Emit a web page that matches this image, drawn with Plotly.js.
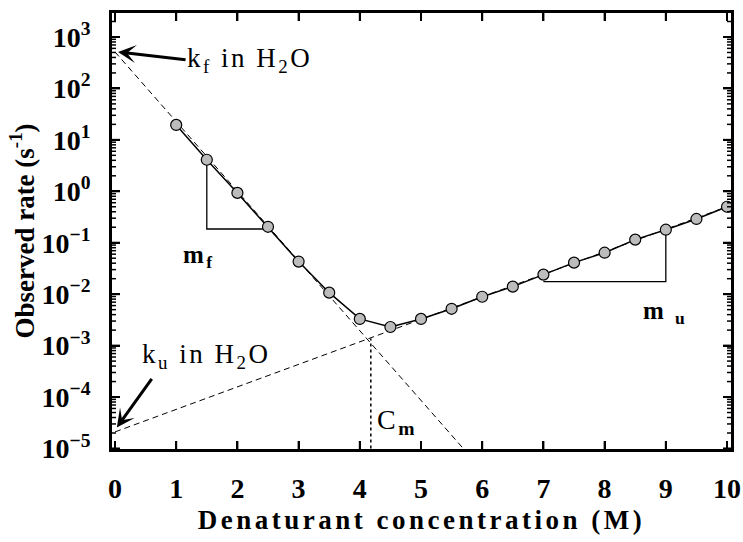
<!DOCTYPE html>
<html>
<head>
<meta charset="utf-8">
<script src="https://cdn.plot.ly/plotly-3.0.1.min.js"></script>
<style>
  html, body { margin: 0; padding: 0; background: #fff; }
  #chart { width: 743px; height: 542px; }
  .xtitle { letter-spacing: 3.5px; }
  .ytitle { letter-spacing: 0px; }
  .annotation-text { letter-spacing: 2.5px; }
</style>
</head>
<body>
<div id="chart"></div>
<script>
// Observed refolding/unfolding rates (chevron plot)
const conc = [1, 1.5, 2, 2.5, 3, 3.5, 4, 4.5, 5, 5.5, 6, 6.5, 7, 7.5, 8, 8.5, 9, 9.5, 10];
const rate = [19.5, 4.1, 0.93, 0.204, 0.043, 0.0107, 0.0033, 0.0023, 0.0033, 0.0052, 0.0089,
              0.014, 0.024, 0.041, 0.064, 0.115, 0.179, 0.29, 0.50];

// Extrapolated folding and unfolding limbs (dashed)
const foldX = [0, 5.69];
const foldY = [512, 1e-5];
const unfoldX = [0, 10];
const unfoldY = [2.1e-5, 0.5];

// Midpoint Cm (dotted)
const cmX = [4.18, 4.18];
const cmY = [1e-5, 0.00138];

// Slope triangles
const mfTriX = [1.5, 1.5, 2.5];
const mfTriY = [4.1, 0.185, 0.185];
const muTriX = [7, 9, 9];
const muTriY = [0.0175, 0.0175, 0.179];

// Tick positions
const xTickVals = [0, 1, 2, 3, 4, 5, 6, 7, 8, 9, 10];
const yDecades = [1e-5, 1e-4, 1e-3, 1e-2, 1e-1, 1e0, 1e1, 1e2, 1e3];
const minorMultipliers = [2, 3, 4, 5, 6, 7, 8, 9];

// Axis tick labels: Plotly's default text for 10^0 and 10^1 is "1" and "10",
// so relabel those two to the power form used in the figure.
const yDefaultLabels = ['1', '10'];
const yPowerLabels = ['10<sup>0</sup>', '10<sup>1</sup>'];
const yLabelAlias = {};
yDefaultLabels.forEach((k, i) => { yLabelAlias[k] = yPowerLabels[i]; });

const xRange = [-0.049, 10.065];
const yRangeLog = [-5.01, 3.466];

const serif = 'Liberation Serif, Times New Roman, serif';

// inside tick marks on all four sides, placed through the axes' own scales
const tickShapes = [];
function xTick(v, len, w) {
  tickShapes.push({ type: 'line', xref: 'x', yref: 'paper', ysizemode: 'pixel', yanchor: 0,
    x0: v, x1: v, y0: 0, y1: len, line: { color: '#000', width: w } });
  tickShapes.push({ type: 'line', xref: 'x', yref: 'paper', ysizemode: 'pixel', yanchor: 1,
    x0: v, x1: v, y0: 0, y1: -len, line: { color: '#000', width: w } });
}
function yTick(v, len, w) {
  tickShapes.push({ type: 'line', xref: 'paper', yref: 'y', xsizemode: 'pixel', xanchor: 0,
    x0: 0, x1: len, y0: v, y1: v, line: { color: '#000', width: w } });
  tickShapes.push({ type: 'line', xref: 'paper', yref: 'y', xsizemode: 'pixel', xanchor: 1,
    x0: 0, x1: -len, y0: v, y1: v, line: { color: '#000', width: w } });
}
xTickVals.forEach(v => xTick(v, 8, 2));
yDecades.forEach(d => {
  yTick(d, 8, 2);
  minorMultipliers.forEach(m => {
    const v = d * m;
    if (Math.log10(v) < yRangeLog[1]) yTick(v, 4, 1.5);
  });
});

const traces = [
  { x: foldX, y: foldY, mode: 'lines', line: { color: '#000', width: 1, dash: '6px,4px' }, hoverinfo: 'skip' },
  { x: unfoldX, y: unfoldY, mode: 'lines', line: { color: '#000', width: 1, dash: '6px,4px' }, hoverinfo: 'skip' },
  { x: cmX, y: cmY, mode: 'lines', line: { color: '#000', width: 1.5, dash: 'dot' }, hoverinfo: 'skip' },
  { x: mfTriX, y: mfTriY, mode: 'lines', line: { color: '#000', width: 1.3 }, hoverinfo: 'skip' },
  { x: muTriX, y: muTriY, mode: 'lines', line: { color: '#000', width: 1.3 }, hoverinfo: 'skip' },
  { x: conc, y: rate, mode: 'lines+markers',
    line: { color: '#000', width: 1.5 },
    marker: { size: 11, color: '#bcbcbc', line: { color: '#000', width: 1.2 } } }
];

const annFont = { family: serif, size: 27, color: '#000' };

const layout = {
  width: 743, height: 542,
  margin: { l: 112, r: 12, t: 13, b: 93 },
  paper_bgcolor: '#fff', plot_bgcolor: '#fff',
  showlegend: false,
  shapes: tickShapes,
  xaxis: {
    range: xRange,
    tickmode: 'linear', tick0: 0, dtick: 1,
    ticks: 'inside', ticklen: 8, tickwidth: 2, tickcolor: '#000',
    showline: true, linewidth: 3, linecolor: '#000', mirror: 'ticks',
    showgrid: false, zeroline: false,
    tickfont: { family: serif, size: 28, color: '#000', weight: 'bold' },
    ticklabelstandoff: 12,
    title: { text: 'Denaturant concentration (M)', standoff: 8,
             font: { family: serif, size: 27, color: '#000', weight: 'bold' } }
  },
  yaxis: {
    type: 'log',
    range: yRangeLog,
    tickmode: 'linear', dtick: 1, exponentformat: 'power',
    labelalias: yLabelAlias,
    ticks: 'inside', ticklen: 8, tickwidth: 2, tickcolor: '#000',
    showline: true, linewidth: 3, linecolor: '#000', mirror: 'ticks',
    showgrid: false, zeroline: false,
    // power-format labels are drawn 1.25x larger by Plotly
    tickfont: { family: serif, size: 22.4, color: '#000', weight: 'bold' },
    ticklabelstandoff: 14,
    title: { text: 'Observed rate (s<sup>-1</sup>)', standoff: 0,
             font: { family: serif, size: 27, color: '#000', weight: 'bold' } }
  },
  annotations: [
    // k_f arrow
    { x: 0.05, y: Math.log10(512), xref: 'x', yref: 'y', text: '', showarrow: true,
      ax: 69, ay: 8, arrowhead: 3, arrowsize: 1, arrowwidth: 3, arrowcolor: '#000' },
    { x: 1.14, y: Math.log10(357), xref: 'x', yref: 'y', xanchor: 'left', yanchor: 'middle',
      text: 'k<sub>f</sub> in H<sub>2</sub>O', showarrow: false, font: annFont },
    // k_u arrow
    { x: 0.03, y: Math.log10(2.57e-5), xref: 'x', yref: 'y', text: '', showarrow: true,
      ax: 36, ay: -50, arrowhead: 3, arrowsize: 1, arrowwidth: 3, arrowcolor: '#000' },
    { x: 0.41, y: Math.log10(6.4e-4), xref: 'x', yref: 'y', xanchor: 'left', yanchor: 'middle',
      text: 'k<sub>u</sub> in H<sub>2</sub>O', showarrow: false, font: annFont },
    // slopes and Cm
    { x: 1.37, y: Math.log10(0.053), xref: 'x', yref: 'y', text: '<b>m<sub>f</sub></b>',
      showarrow: false, font: { family: serif, size: 25, color: '#000' } },
    { x: 8.99, y: Math.log10(0.0044), xref: 'x', yref: 'y', text: '<b>m <sub>u</sub></b>',
      showarrow: false, font: { family: serif, size: 25, color: '#000' } },
    { x: 4.6, y: Math.log10(3.3e-5), xref: 'x', yref: 'y', text: 'C<sub><b>m</b></sub>',
      showarrow: false, font: { family: serif, size: 28, color: '#000' } }
  ]
};

Plotly.newPlot('chart', traces, layout, { displayModeBar: false, staticPlot: true });
</script>
</body>
</html>
